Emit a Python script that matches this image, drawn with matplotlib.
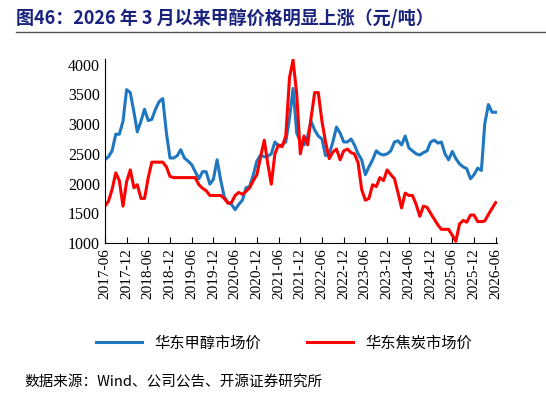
import matplotlib
matplotlib.use("Agg")
import matplotlib.pyplot as plt
import pandas as pd

dates = pd.date_range("2017-06-01", "2026-06-01", freq="MS")
methanol = [2400,2450,2550,2830,2830,3050,3580,3530,3200,2870,3050,3250,
            3060,3080,3250,3380,3430,2850,2430,2430,2470,2570,2430,2380,
            2320,2200,2080,2200,2200,1990,2070,2400,2050,1780,1680,1650,
            1560,1650,1720,1930,1950,2150,2380,2480,2450,2460,2500,2700,
            2630,2650,2700,3100,3600,2850,2700,2650,2800,3050,2900,2800,
            2750,2470,2500,2700,2950,2850,2700,2700,2750,2650,2500,2400,
            2150,2280,2400,2550,2500,2480,2500,2550,2700,2720,2650,2800,
            2600,2550,2500,2480,2520,2550,2700,2730,2680,2700,2500,2400,
            2540,2420,2330,2280,2250,2080,2150,2260,2220,3000,3330,3200,3200]
coke = [1620,1700,1900,2180,2050,1620,2030,2230,1930,1980,1750,1750,
        2100,2360,2360,2360,2360,2280,2120,2100,2100,2100,2100,2100,
        2100,2100,1980,1920,1880,1800,1800,1800,1800,1750,1670,1680,
        1800,1850,1820,1870,1930,2050,2150,2450,2730,2350,1990,2500,
        2650,2620,2800,3780,4080,3500,2500,2800,2650,3100,3530,3530,
        3050,2700,2420,2530,2580,2400,2550,2580,2520,2500,2350,1900,
        1720,1750,1980,1950,2100,2050,2230,2150,2080,1850,1590,1840,
        1800,1800,1650,1450,1620,1600,1500,1400,1300,1230,1230,1230,
        1130,1030,1320,1380,1350,1470,1470,1360,1360,1370,1480,1580,1680]
tick_dates = pd.date_range("2017-06-01", "2026-06-01", freq="6MS")
tick_labels = [d.strftime("%Y-%m") for d in tick_dates]
yticks = [1000,1500,2000,2500,3000,3500,4000]

cjk = ['Noto Sans CJK SC', 'DejaVu Sans']
serif = 'Liberation Serif'

fig = plt.figure(figsize=(5.46, 4.05), dpi=100)
ax = fig.add_axes([0.192, 0.40, 0.718, 0.455])
ax.plot(dates, methanol, color='#1f77c0', lw=2.2, label='华东甲醇市场价')
ax.plot(dates, coke, color='#ff0000', lw=2.2, label='华东焦炭市场价')
ax.set_ylim(1000, 4100)
ax.set_xlim(dates[0], dates[-1] + pd.Timedelta(days=10))
ax.set_yticks(yticks)
ax.set_xticks(tick_dates)
ax.set_xticklabels(tick_labels, rotation=90, fontsize=11, family=serif)
for t in ax.get_yticklabels():
    t.set_fontfamily(serif); t.set_fontsize(11.5)
for s in ['top', 'right']:
    ax.spines[s].set_visible(False)
ax.tick_params(axis='both', direction='in', length=4)
ax.tick_params(axis='y', length=0)
leg = fig.legend(loc='center', bbox_to_anchor=(0.52, 0.153), ncol=2, frameon=False,
                 prop={'family': cjk, 'size': 11}, handlelength=3, columnspacing=3)

fig.text(0.03, 0.955, '图46：2026 年 3 月以来甲醇价格明显上涨（元/吨）', color='#1a237e',
         fontsize=13, fontweight='bold', family=['Noto Sans CJK SC', 'DejaVu Sans'], va='center')
fig.add_artist(plt.Line2D([0.03, 1.0], [0.92, 0.92], color='#555555', lw=1))
fig.text(0.045, 0.055, '数据来源：Wind、公司公告、开源证券研究所', fontsize=10.5,
         family=cjk, va='center')
fig.savefig('out.png', dpi=100)
